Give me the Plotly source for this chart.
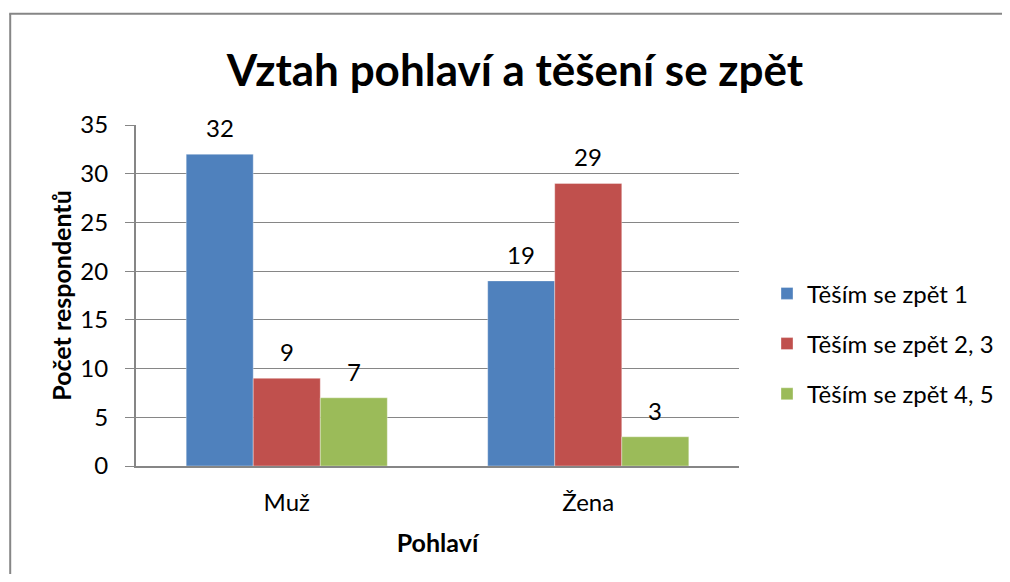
import plotly.graph_objects as go

categories = ["Muž", "Žena"]
series_names = ["Těším se zpět 1", "Těším se zpět 2, 3", "Těším se zpět 4, 5"]
series_values = [
    [32, 19],
    [9, 29],
    [7, 3],
]
colors = ["#4F81BD", "#C0504D", "#9BBB59"]
y_ticks = [0, 5, 10, 15, 20, 25, 30, 35]

FONT = "Lato, Carlito, Calibri, sans-serif"
OFF = 8  # page body margin
W, H = 1010 - OFF, 582 - 2 * OFF
# plot area in screen pixels
PX0, PX1, PY0, PY1 = 136, 740, 124.5, 466
L, R, T = PX0 - OFF, W - (PX1 - OFF), PY0 - OFF
B = H - (PY1 - OFF)
pw, ph = W - L - R, H - T - B
BARGAP = 0.333


def sx(x):
    return (x - PX0) / pw


def sy(y):
    return (PY1 - y) / ph


fig = go.Figure()
n = len(series_names)
for si, (name, vals, col) in enumerate(zip(series_names, series_values, colors)):
    fig.add_trace(go.Bar(
        x=categories, y=vals, name=name, legendgroup=name,
        marker=dict(color=col, line=dict(color="rgba(255,255,255,0.35)", width=1)),
    ))
    # value labels above bars, placed via the axis scales
    for ci, v in enumerate(vals):
        fig.add_annotation(
            x=ci + (si - (n - 1) / 2) * (1 - BARGAP) / n, y=v, xref="x", yref="y",
            text=str(v), showarrow=False, yanchor="bottom", yshift=10,
            font=dict(size=24, color="#000000", family=FONT),
        )

fig.update_layout(
    width=W, height=H,
    margin=dict(l=L, r=R, t=T, b=B, pad=0),
    paper_bgcolor="white", plot_bgcolor="white",
    barmode="group", bargap=BARGAP, bargroupgap=0,
    font=dict(family=FONT, size=24, color="#000000"),
    title=dict(text="<b>Vztah pohlaví a těšení se zpět</b>",
               font=dict(size=44, family=FONT, color="#000000"),
               x=(515 - OFF) / W, xanchor="center", y=1 - (71 - OFF) / H, yanchor="middle"),
    legend=dict(x=sx(767), y=sy(271), xanchor="left", yanchor="top",
                font=dict(size=24, family=FONT), tracegroupgap=16,
                itemwidth=30, bgcolor="rgba(0,0,0,0)"),
    showlegend=True,
)
fig.update_xaxes(
    showline=True, linecolor="#868686", linewidth=2,
    ticks="", tickfont=dict(size=24), ticklabelstandoff=14,
    title=dict(text="<b>Pohlaví</b>", font=dict(size=25), standoff=20),
)
fig.update_yaxes(
    range=[0, 35], tickvals=y_ticks, showline=True, linecolor="#868686", linewidth=2,
    showgrid=True, gridcolor="#868686", gridwidth=1.3,
    ticks="outside", ticklen=9, tickcolor="#868686", tickwidth=1.3,
    tickfont=dict(size=24), zeroline=False, ticklabelstandoff=12,
    title=dict(text="<b>Počet respondentů</b>", font=dict(size=25), standoff=2),
)

# outer chart border (left and top edges visible in the frame)
border = dict(color="#868686", width=2)
fig.add_shape(type="line", xref="paper", yref="paper",
              x0=sx(10), x1=sx(10), y0=sy(600), y1=sy(13), line=border, layer="below")
fig.add_shape(type="line", xref="paper", yref="paper",
              x0=sx(9), x1=sx(1030), y0=sy(13), y1=sy(13), line=border, layer="below")

fig.write_html("out.html")
